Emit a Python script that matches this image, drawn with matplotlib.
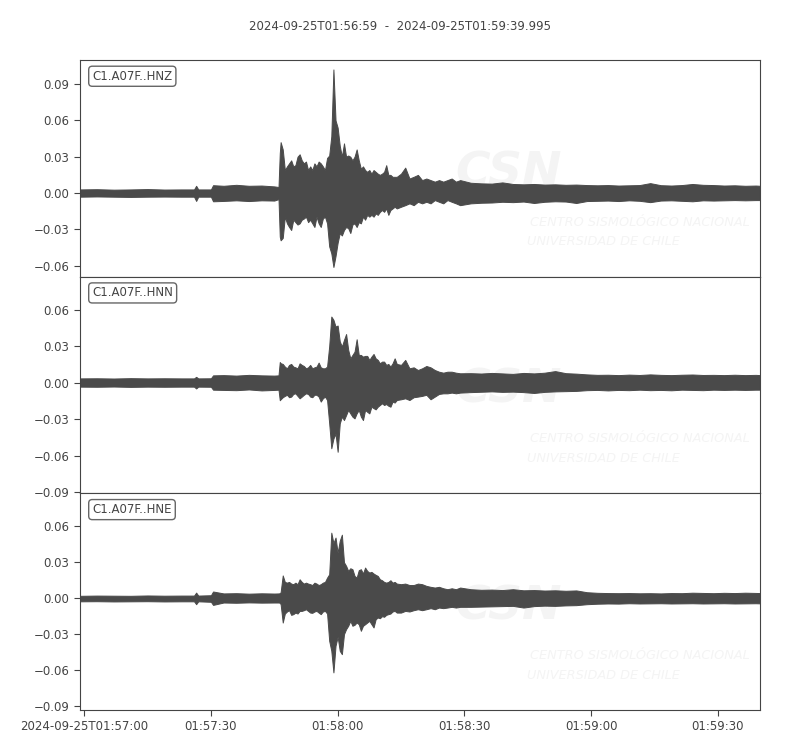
"""Three-component accelerogram, station C1.A07F (HNZ / HNN / HNE)."""
import matplotlib
matplotlib.use("Agg")
import matplotlib.pyplot as plt

# time of each envelope knot, seconds after 2024-09-25T01:56:59
t_sec = [
    0, 4, 8, 12, 16, 20, 24, 27.0, 27.5, 28.0, 31.0, 31.5, 34, 37, 40, 43, 46, 47.0,
    47.3,
    47.5, 48.0, 48.5, 49.0, 49.5, 50.0, 50.5, 51.0, 51.5, 52.0,
    52.5, 53.0, 53.5, 54.0, 54.5, 55.0, 55.5, 56.0, 56.5, 57.0,
    57.5, 58.0, 58.5, 59.0, 59.5, 60.0, 60.5, 61.0, 61.5, 62.0,
    62.5, 63.0, 63.5, 64.0, 64.5, 65.0, 65.5, 66.0, 66.5, 67.0,
    67.5, 68.0, 68.5, 69.0, 69.5, 70.0, 70.5, 71.0, 71.5, 72.0,
    72.5, 73.0, 73.5, 74.0, 74.5, 75.0,
    76, 77, 78, 79, 80, 81, 82, 83, 84, 85, 86, 87, 88, 89, 90,
    92.5, 95, 97.5, 100, 102.5, 105, 107.5, 110, 112.5, 115, 117.5, 120,
    122.5, 125, 127.5, 130, 132.5, 135, 137.5, 140, 142.5, 145, 147.5, 150,
    152.5, 155, 157.5, 160, 161,
]

# peak (upper) and trough (lower) envelope of each channel, m/s^2
hnz_upper = [
    0.003, 0.0032, 0.0028, 0.003, 0.0033, 0.0029, 0.003, 0.003, 0.006, 0.003,
    0.003, 0.0065, 0.006, 0.0068, 0.006, 0.0062, 0.0055, 0.005,
    0.033,
    0.042, 0.036, 0.019, 0.022, 0.0245, 0.027, 0.022, 0.023, 0.030, 0.032,
    0.027, 0.0245, 0.026, 0.019, 0.022, 0.019, 0.0245, 0.022, 0.026, 0.0245,
    0.022, 0.019, 0.029, 0.031, 0.047, 0.102, 0.060, 0.054, 0.039, 0.030,
    0.041, 0.030, 0.031, 0.030, 0.027, 0.030, 0.036, 0.027, 0.020, 0.022,
    0.019, 0.0175, 0.019, 0.016, 0.019, 0.0175, 0.016, 0.015, 0.016, 0.0175,
    0.023, 0.015, 0.015, 0.0134, 0.0134, 0.0134,
    0.016, 0.021, 0.012, 0.0134, 0.015, 0.0107, 0.012, 0.0107, 0.0094, 0.0107,
    0.0094, 0.0107, 0.012, 0.0094, 0.0107,
    0.0085, 0.008, 0.0078, 0.0088, 0.0075, 0.0072, 0.0075, 0.007, 0.0072, 0.0068,
    0.007, 0.0066, 0.0064, 0.0066, 0.0062, 0.0064, 0.0066, 0.0082, 0.0065, 0.0062,
    0.0066, 0.0075, 0.0068, 0.0066, 0.0062, 0.0064, 0.006, 0.0062, 0.006,
]
hnz_lower = [
    -0.003, -0.0028, -0.003, -0.0032, -0.003, -0.0029, -0.003, -0.003, -0.0065, -0.003,
    -0.003, -0.0068, -0.0065, -0.006, -0.0066, -0.006, -0.0062, -0.005,
    -0.036,
    -0.039, -0.037, -0.0195, -0.025, -0.028, -0.0305, -0.022, -0.024, -0.026, -0.025,
    -0.022, -0.021, -0.0195, -0.024, -0.022, -0.025, -0.028, -0.0195, -0.025, -0.028,
    -0.021, -0.0195, -0.025, -0.044, -0.0497, -0.061, -0.052, -0.041, -0.033, -0.035,
    -0.0305, -0.028, -0.029, -0.033, -0.026, -0.025, -0.028, -0.024, -0.025, -0.0195,
    -0.022, -0.018, -0.0195, -0.018, -0.0195, -0.0168, -0.018, -0.0155, -0.014, -0.0155,
    -0.0127, -0.018, -0.014, -0.0127, -0.0113, -0.0127,
    -0.0113, -0.010, -0.0085, -0.010, -0.0072, -0.0085, -0.0072, -0.0085, -0.0058, -0.0072,
    -0.0085, -0.0058, -0.0072, -0.0085, -0.010,
    -0.0085, -0.008, -0.0078, -0.0072, -0.0075, -0.007, -0.0082, -0.0072, -0.0068, -0.007,
    -0.0082, -0.0066, -0.0064, -0.0062, -0.0066, -0.006, -0.0064, -0.0075, -0.0062, -0.006,
    -0.0064, -0.0068, -0.006, -0.0062, -0.006, -0.0058, -0.006, -0.0058, -0.0058,
]

hnn_upper = [
    0.0035, 0.0036, 0.0034, 0.0037, 0.0035, 0.0036, 0.0035, 0.0035, 0.0048, 0.0035,
    0.0036, 0.006, 0.0062, 0.0058, 0.0064, 0.006, 0.0058, 0.006,
    0.017,
    0.016, 0.0154, 0.0132, 0.0118, 0.0146, 0.0154, 0.0132, 0.0126, 0.0118, 0.0159,
    0.0146, 0.0137, 0.0118, 0.0126, 0.0146, 0.0118, 0.0126, 0.0132, 0.0165, 0.0126,
    0.0118, 0.0118, 0.0132, 0.030, 0.0544, 0.0517, 0.0462, 0.047, 0.034, 0.0297,
    0.0352, 0.040, 0.027, 0.020, 0.0228, 0.0255, 0.0357, 0.0228, 0.0228, 0.0214,
    0.022, 0.022, 0.0187, 0.0214, 0.0236, 0.020, 0.0187, 0.0159, 0.0173, 0.0173,
    0.0146, 0.0154, 0.0132, 0.0159, 0.020, 0.0154,
    0.0146, 0.0187, 0.0118, 0.0126, 0.0104, 0.0118, 0.0137, 0.0126, 0.0104, 0.009,
    0.0082, 0.009, 0.009, 0.0082, 0.0077,
    0.0078, 0.0075, 0.008, 0.0076, 0.0072, 0.008, 0.0076, 0.0082, 0.0095, 0.0078,
    0.0074, 0.0068, 0.0064, 0.0065, 0.0062, 0.0066, 0.0063, 0.0068, 0.0064, 0.0062,
    0.0065, 0.0067, 0.0063, 0.0064, 0.0062, 0.0065, 0.0062, 0.0064, 0.0062,
]
hnn_lower = [
    -0.0033, -0.0034, -0.0032, -0.0035, -0.0033, -0.0034, -0.0033, -0.0033, -0.0048, -0.0033,
    -0.0034, -0.0058, -0.006, -0.0062, -0.0056, -0.0064, -0.006, -0.0058,
    -0.0145,
    -0.0137, -0.012, -0.0109, -0.010, -0.012, -0.0115, -0.0093, -0.0088, -0.0109, -0.0129,
    -0.0115, -0.010, -0.0088, -0.0093, -0.0115, -0.012, -0.010, -0.010, -0.0115, -0.0156,
    -0.0129, -0.0115, -0.0143, -0.0335, -0.054, -0.046, -0.042, -0.0569, -0.0335, -0.028,
    -0.0308, -0.0267, -0.0225, -0.0253, -0.028, -0.0294, -0.0253, -0.0225, -0.028, -0.0308,
    -0.0225, -0.024, -0.0253, -0.0198, -0.021, -0.022, -0.0198, -0.0184, -0.017, -0.0184,
    -0.0176, -0.019, -0.0198, -0.0156, -0.0164, -0.0143,
    -0.0137, -0.0129, -0.0143, -0.012, -0.0115, -0.0109, -0.010, -0.0137, -0.0115, -0.0093,
    -0.0088, -0.0088, -0.0082, -0.0088, -0.0082,
    -0.0078, -0.0075, -0.0072, -0.0076, -0.0074, -0.0078, -0.0085, -0.0076, -0.0072, -0.007,
    -0.0068, -0.0062, -0.006, -0.0064, -0.006, -0.0062, -0.0058, -0.0062, -0.006, -0.0063,
    -0.0058, -0.006, -0.0062, -0.0058, -0.006, -0.0058, -0.006, -0.0058, -0.0058,
]

hne_upper = [
    0.002, 0.0022, 0.0021, 0.002, 0.0023, 0.0021, 0.0022, 0.0022, 0.0047, 0.0022,
    0.0025, 0.0056, 0.004, 0.0042, 0.0038, 0.0041, 0.0039, 0.004,
    0.0042,
    0.005, 0.019, 0.0136, 0.013, 0.0136, 0.0122, 0.0117, 0.013, 0.0117, 0.0158,
    0.0136, 0.0122, 0.013, 0.0122, 0.0117, 0.011, 0.013, 0.0122, 0.011, 0.0117,
    0.013, 0.0136, 0.0172, 0.020, 0.0547, 0.046, 0.0506, 0.038, 0.048, 0.053,
    0.030, 0.027, 0.0228, 0.025, 0.0242, 0.0186, 0.0172, 0.0234, 0.0242, 0.0206,
    0.0256, 0.0228, 0.0214, 0.022, 0.0206, 0.0195, 0.0186, 0.0158, 0.015, 0.0136,
    0.013, 0.0136, 0.015, 0.013, 0.0136, 0.0122,
    0.0117, 0.0122, 0.011, 0.011, 0.0122, 0.0117, 0.0103, 0.0095, 0.0089, 0.0095,
    0.0083, 0.0075, 0.0083, 0.0075, 0.0089,
    0.0075, 0.007, 0.0072, 0.0068, 0.0075, 0.0066, 0.0068, 0.0064, 0.0066, 0.0062,
    0.0065, 0.005, 0.0045, 0.0043, 0.0042, 0.0043, 0.0041, 0.0042, 0.004, 0.0043,
    0.0042, 0.0046, 0.0044, 0.0042, 0.0045, 0.0043, 0.0046, 0.0044, 0.0043,
]
hne_lower = [
    -0.0026, -0.0025, -0.0027, -0.0026, -0.0025, -0.0027, -0.0026, -0.0026, -0.005, -0.0026,
    -0.003, -0.0056, -0.0036, -0.0038, -0.0035, -0.0037, -0.0036, -0.0036,
    -0.0038,
    -0.005, -0.0203, -0.0128, -0.0111, -0.010, -0.0139, -0.0133, -0.012, -0.0128, -0.0106,
    -0.0106, -0.010, -0.0092, -0.0106, -0.012, -0.0122, -0.0111, -0.0106, -0.012, -0.0133,
    -0.0111, -0.0106, -0.0128, -0.0355, -0.0439, -0.0619, -0.0397, -0.0322, -0.0439, -0.0467,
    -0.030, -0.0258, -0.023, -0.0189, -0.023, -0.0222, -0.0203, -0.0217, -0.0272, -0.023,
    -0.0217, -0.0203, -0.0189, -0.0217, -0.0244, -0.0175, -0.0161, -0.0167, -0.015, -0.0155,
    -0.0139, -0.0133, -0.0128, -0.0111, -0.0106, -0.012,
    -0.012, -0.0106, -0.0111, -0.010, -0.0092, -0.010, -0.0092, -0.0083, -0.0092, -0.0078,
    -0.0083, -0.0078, -0.0072, -0.0078, -0.0072,
    -0.0072, -0.007, -0.0068, -0.0066, -0.0064, -0.0078, -0.0066, -0.0062, -0.0064, -0.006,
    -0.0058, -0.005, -0.0046, -0.0044, -0.0045, -0.0042, -0.0044, -0.0043, -0.0042, -0.0044,
    -0.0043, -0.0042, -0.0044, -0.0043, -0.0042, -0.0044, -0.0043, -0.0042, -0.0043,
]

channels = ["C1.A07F..HNZ", "C1.A07F..HNN", "C1.A07F..HNE"]
uppers = [hnz_upper, hnn_upper, hne_upper]
lowers = [hnz_lower, hnn_lower, hne_lower]
y_limits = [(-0.069, 0.1098), (-0.0911, 0.0872), (-0.0933, 0.0875)]
y_ticks = [
    [-0.06, -0.03, 0.0, 0.03, 0.06, 0.09],
    [-0.09, -0.06, -0.03, 0.0, 0.03, 0.06],
    [-0.09, -0.06, -0.03, 0.0, 0.03, 0.06],
]

x_tick_sec = [1, 31, 61, 91, 121, 151]
x_tick_labels = ["2024-09-25T01:57:00", "01:57:30", "01:58:00",
                 "01:58:30", "01:59:00", "01:59:30"]
title = "2024-09-25T01:56:59  -  2024-09-25T01:59:39.995"

TRACE = "#4a4a4a"
INK = "#444444"
WATERMARK = "#f4f4f4"

fig, axes = plt.subplots(3, 1, figsize=(8, 7.5), dpi=100, sharex=True)
fig.subplots_adjust(left=0.1, right=0.95, top=0.92, bottom=0.0533, hspace=0)

for ax, name, up, lo, ylim, yt in zip(axes, channels, uppers, lowers, y_limits, y_ticks):
    # faint CSN watermark behind the trace
    ax.text(0.552, 0.42, "CSN", transform=ax.transAxes, fontsize=34,
            fontweight="bold", style="italic", color=WATERMARK, zorder=0)
    ax.text(0.662, 0.235, "CENTRO SISMOLÓGICO NACIONAL", transform=ax.transAxes,
            fontsize=9.3, style="italic", color=WATERMARK, zorder=0)
    ax.text(0.658, 0.145, "UNIVERSIDAD DE CHILE", transform=ax.transAxes,
            fontsize=9.3, style="italic", color=WATERMARK, zorder=0)

    ax.fill_between(t_sec, lo, up, color=TRACE, linewidth=0.7, zorder=2)
    ax.set_xlim(0, 160.995)
    ax.set_ylim(*ylim)
    ax.set_yticks(yt)
    ax.set_yticklabels([f"{v:.2f}".replace("-", "\u2212") for v in yt])
    ax.tick_params(axis="both", colors=INK, labelsize=8.5, length=4)
    for sp in ax.spines.values():
        sp.set_color(INK)
    ax.text(0.018, 0.955, name, transform=ax.transAxes, ha="left", va="top",
            fontsize=8.5, color=INK, zorder=5,
            bbox=dict(boxstyle="round,pad=0.3", fc="white", ec="#666666", lw=1))
    ax.tick_params(axis="x", bottom=False, labelbottom=False)

axes[-1].tick_params(axis="x", bottom=True, labelbottom=True)
axes[-1].set_xticks(x_tick_sec)
axes[-1].set_xticklabels(x_tick_labels)

fig.suptitle(title, y=0.973, fontsize=8.5, color=INK)
fig.savefig("out.png", dpi=100)
